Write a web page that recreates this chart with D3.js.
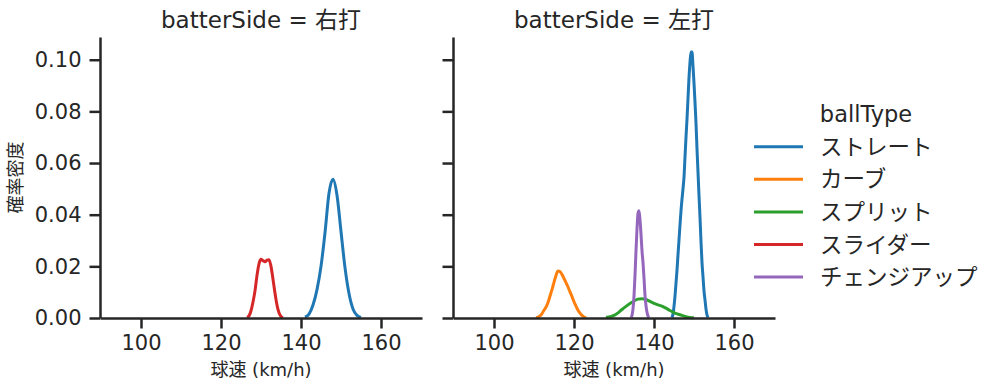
<!DOCTYPE html>
<html>
<head>
<meta charset="utf-8">
<script src="https://cdn.jsdelivr.net/npm/d3@7"></script>
<style>
  body { margin: 0; background: #fff; }
  svg { display: block; }
  text { font-family: "DejaVu Sans", "Noto Sans CJK JP", sans-serif; fill: #262626; }
</style>
</head>
<body>
<div id="chart"></div>
<script>
// categories
var ballTypes = ["ストレート", "カーブ", "スプリット", "スライダー", "チェンジアップ"];
var colors = ["#1f77b4", "#ff7f0e", "#2ca02c", "#d62728", "#9467bd"];
var batterSides = ["右打", "左打"];

// ticks
var xTicks = [100, 120, 140, 160];
var yTicks = [0, 0.02, 0.04, 0.06, 0.08, 0.10];

// density curves: [speed, density]
var rightStraight = [
    [141, 0.0003], [142, 0.0015], [143, 0.0050], [144, 0.0110], [145, 0.0200],
    [146, 0.0330], [147, 0.0483], [148, 0.0537], [149, 0.0475], [150, 0.0335],
    [151, 0.0195], [152, 0.0095], [153, 0.0035], [154, 0.0010], [155, 0.0002]
];
var rightSlider = [
    [126.5, 0.0002], [127, 0.0008], [127.5, 0.0028], [128, 0.0062], [128.5, 0.0105],
    [129, 0.0165], [129.5, 0.0210], [130, 0.0227], [130.5, 0.0222], [131, 0.0218],
    [131.5, 0.0224], [132, 0.0226], [132.5, 0.0200], [133, 0.0150], [133.5, 0.0096],
    [134, 0.0050], [134.5, 0.0020], [135, 0.0006], [135.5, 0.0001]
];
var leftStraight = [
    [144.5, 0.0002], [144.75, 0.0015], [145, 0.0045], [145.25, 0.0085], [145.5, 0.0135],
    [145.75, 0.0185], [146, 0.0245], [146.25, 0.0302], [146.5, 0.0360], [146.75, 0.0415],
    [147, 0.0460], [147.25, 0.0500], [147.5, 0.0545], [147.75, 0.0624], [148, 0.0700],
    [148.25, 0.0770], [148.5, 0.0850], [148.75, 0.0930], [149, 0.0990], [149.25, 0.1030],
    [149.5, 0.1030], [149.75, 0.0975], [150, 0.0910], [150.25, 0.0835], [150.5, 0.0755],
    [150.75, 0.0655], [151, 0.0565], [151.25, 0.0475], [151.5, 0.0390], [151.75, 0.0295],
    [152, 0.0215], [152.25, 0.0160], [152.5, 0.0105], [152.75, 0.0070], [153, 0.0035],
    [153.25, 0.0012], [153.5, 0.0002]
];
var leftCurve = [
    [110.5, 0.0001], [111, 0.0003], [111.5, 0.0008], [112, 0.0017], [112.5, 0.0030],
    [113, 0.0042], [113.5, 0.0060], [114, 0.0085], [114.5, 0.0110], [115, 0.0138],
    [115.5, 0.0165], [116, 0.0182], [116.5, 0.0180], [117, 0.0168], [117.5, 0.0153],
    [118, 0.0137], [118.5, 0.0120], [119, 0.0101], [119.5, 0.0083], [120, 0.0063],
    [120.5, 0.0046], [121, 0.0030], [121.5, 0.0019], [122, 0.0010], [122.5, 0.0004],
    [123, 0.0001]
];
var leftSplit = [
    [128, 0.0002], [129, 0.0005], [130, 0.0010], [131, 0.0020], [132, 0.0033],
    [133, 0.0045], [134, 0.0056], [135, 0.0066], [136, 0.0073], [137, 0.0075],
    [138, 0.0072], [139, 0.0064], [140, 0.0057], [141, 0.0051], [142, 0.0046],
    [143, 0.0038], [144, 0.0029], [145, 0.0021], [146, 0.0015], [147, 0.0010],
    [148, 0.0005], [149, 0.0002], [150, 0.0001]
];
var leftChangeup = [
    [134.25, 0.0002], [134.5, 0.0010], [134.75, 0.0035], [135, 0.0085], [135.25, 0.0165],
    [135.5, 0.0260], [135.75, 0.0345], [136, 0.0405], [136.25, 0.0415], [136.5, 0.0380],
    [136.75, 0.0325], [137, 0.0260], [137.25, 0.0215], [137.5, 0.0155], [137.75, 0.0088],
    [138, 0.0048], [138.25, 0.0022], [138.5, 0.0008], [138.75, 0.0002]
];

// per panel: which ball type each curve belongs to
var panelSeries = [
    [{ type: 0, values: rightStraight }, { type: 3, values: rightSlider }],
    [{ type: 0, values: leftStraight }, { type: 1, values: leftCurve },
     { type: 2, values: leftSplit }, { type: 4, values: leftChangeup }]
];

DensityFacets = function(_parentElement) {
    this.parentElement = _parentElement;
    this.panelLeft = [100, 453];
    this.top = 37;
    this.width = 322;
    this.height = 281;
    this.initVis();
};

DensityFacets.prototype.initVis = function() {
    var vis = this;
    vis.svg = d3.select("#" + vis.parentElement).append("svg")
        .attr("width", 999)
        .attr("height", 391);

    vis.x = d3.scaleLinear().domain([89.75, 170.25]).range([0, vis.width]);
    vis.y = d3.scaleLinear().domain([0, 0.1088]).range([vis.height, 0]);

    vis.line = d3.line()
        .curve(d3.curveMonotoneX)
        .x(function(d) { return vis.x(d[0]); })
        .y(function(d) { return vis.y(d[1]); });

    batterSides.forEach(function(side, i) { vis.drawPanel(i); });

    // y label
    vis.svg.append("text")
        .attr("transform", "translate(22," + (vis.top + vis.height / 2) + ") rotate(-90)")
        .attr("text-anchor", "middle")
        .style("font-size", "18px")
        .text("確率密度");

    vis.drawLegend();
};

DensityFacets.prototype.drawPanel = function(i) {
    var vis = this;
    var g = vis.svg.append("g")
        .attr("transform", "translate(" + vis.panelLeft[i] + "," + vis.top + ")");

    g.selectAll(".kde")
        .data(panelSeries[i])
        .enter().append("path")
        .attr("class", "kde")
        .attr("fill", "none")
        .attr("stroke", function(d) { return colors[d.type]; })
        .attr("stroke-width", 3)
        .attr("stroke-linejoin", "round")
        .attr("d", function(d) { return vis.line(d.values); });

    var xAxis = d3.axisBottom(vis.x).tickValues(xTicks).tickSize(10.5).tickSizeOuter(0).tickPadding(7);
    var yAxis = d3.axisLeft(vis.y).tickValues(yTicks).tickSize(10.5).tickSizeOuter(0).tickPadding(8)
        .tickFormat(i === 0 ? d3.format(".2f") : function() { return ""; });

    var gx = g.append("g")
        .attr("class", "x-axis axis")
        .attr("transform", "translate(0," + vis.height + ")")
        .call(xAxis);
    var gy = g.append("g")
        .attr("class", "y-axis axis")
        .call(yAxis);

    [gx, gy].forEach(function(a) {
        a.attr("font-family", null).attr("font-size", null);
        a.select(".domain").attr("stroke", "#262626").attr("stroke-width", 2.5);
        a.selectAll(".tick line").attr("stroke", "#262626").attr("stroke-width", 2.5);
        a.selectAll(".tick text").style("font-size", "21px").attr("fill", "#262626");
    });

    // title
    g.append("text")
        .attr("x", vis.width / 2)
        .attr("y", 28 - vis.top)
        .attr("text-anchor", "middle")
        .style("font-size", "23px")
        .text("batterSide = " + batterSides[i]);

    // x label
    g.append("text")
        .attr("x", vis.width / 2)
        .attr("y", 376 - vis.top)
        .attr("text-anchor", "middle")
        .style("font-size", "18px")
        .text("球速 (km/h)");
};

DensityFacets.prototype.drawLegend = function() {
    var vis = this;
    var lg = vis.svg.append("g").attr("transform", "translate(754,0)");

    lg.append("text")
        .attr("x", 112)
        .attr("y", 122)
        .attr("text-anchor", "middle")
        .style("font-size", "22.5px")
        .text("ballType");

    var items = lg.selectAll(".item")
        .data(ballTypes)
        .enter().append("g")
        .attr("class", "item")
        .attr("transform", function(d, i) { return "translate(0," + (146.7 + i * 32.6) + ")"; });

    items.append("line")
        .attr("x1", 0).attr("x2", 49)
        .attr("stroke", function(d, i) { return colors[i]; })
        .attr("stroke-width", 3);

    items.append("text")
        .attr("x", 66)
        .attr("y", 8)
        .style("font-size", "22.5px")
        .text(function(d) { return d; });
};

new DensityFacets("chart");
</script>
</body>
</html>
